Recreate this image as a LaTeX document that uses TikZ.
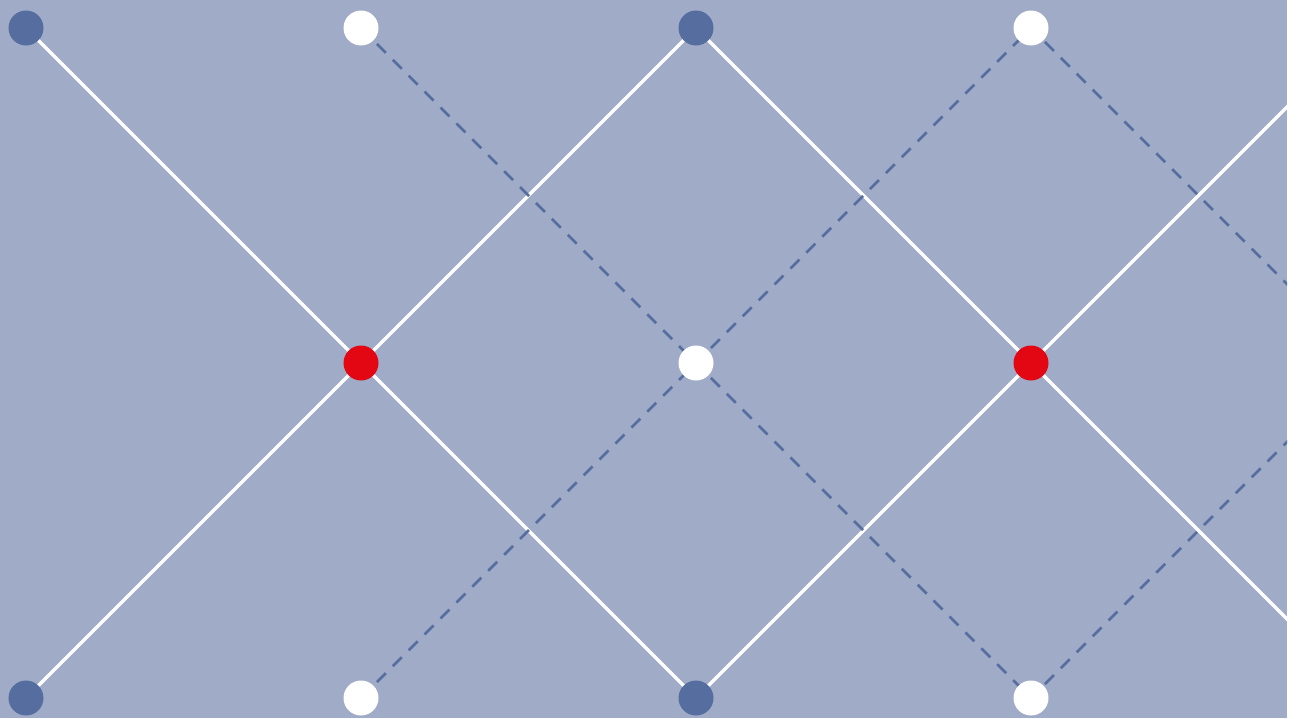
\documentclass[tikz,border=0pt]{standalone}
\usepackage{tikz}
\usetikzlibrary{positioning}
\definecolor{gridbg}{RGB}{160,171,199}
\definecolor{dotblue}{RGB}{86,109,159}
\definecolor{dotred}{RGB}{227,6,19}
\begin{document}
\begin{tikzpicture}[
    bluedot/.style={circle, fill=dotblue, inner sep=0pt, minimum size=0.35cm},
    whitedot/.style={circle, fill=white, inner sep=0pt, minimum size=0.35cm},
    reddot/.style={circle, fill=dotred, inner sep=0pt, minimum size=0.35cm},
    solidline/.style={white, line width=0.95pt},
    dashline/.style={dotblue, line width=0.75pt, dash pattern=on 3.6pt off 2.8pt}
]
    % Canvas
    \useasboundingbox (0,0) rectangle (12.99,7.18);
    \fill[gridbg] (0,0) rectangle (12.87,7.18);

    % Top row
    \coordinate (t1) at (0.26,6.90);
    \coordinate (t2) at (3.61,6.90);
    \coordinate (t3) at (6.96,6.90);
    \coordinate (t4) at (10.31,6.90);
    \coordinate (t5) at (13.66,6.90);

    % Middle row
    \coordinate (m2) at (3.61,3.55);
    \coordinate (m3) at (6.96,3.55);
    \coordinate (m4) at (10.31,3.55);
    \coordinate (m5) at (13.66,3.55);

    % Bottom row
    \coordinate (b1) at (0.26,0.20);
    \coordinate (b2) at (3.61,0.20);
    \coordinate (b3) at (6.96,0.20);
    \coordinate (b4) at (10.31,0.20);
    \coordinate (b5) at (13.66,0.20);

    \begin{scope}
    \clip (0,0) rectangle (12.87,7.18);
    % Solid zigzags
    \draw[solidline] (t1) -- (m2) -- (b3) -- (m4) -- (t5);
    \draw[solidline] (b1) -- (m2) -- (t3) -- (m4) -- (b5);
    % Dashed zigzags
    \draw[dashline] (t2) -- (m3) -- (b4) -- (m5);
    \draw[dashline] (b2) -- (m3) -- (t4) -- (m5);
    \end{scope}

    % Dots on top of the lines
    \foreach \d/\s in {t1/bluedot,t2/whitedot,t3/bluedot,t4/whitedot,
                       m2/reddot,m3/whitedot,m4/reddot,
                       b1/bluedot,b2/whitedot,b3/bluedot,b4/whitedot}
        \node[\s] (\d dot) at (\d) {};
\end{tikzpicture}
\end{document}
